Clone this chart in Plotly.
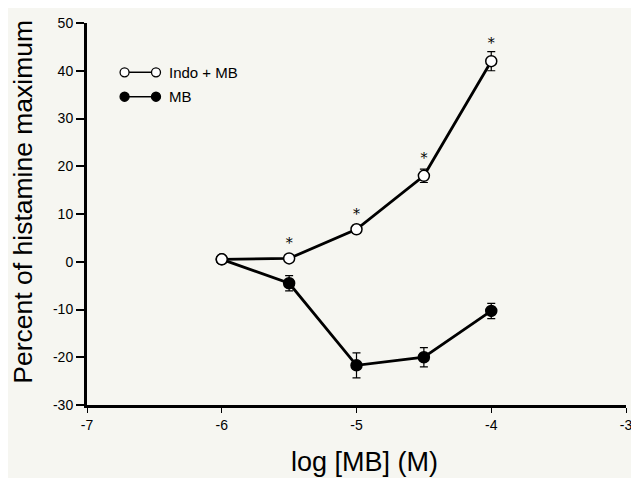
import plotly.graph_objects as go

log_mb = [-6, -5.5, -5, -4.5, -4]
indo_mb = [0.5, 0.7, 6.8, 18.0, 42.0]
indo_err = [0.4, 0.4, 0.8, 1.4, 2.0]
mb_only = [0.5, -4.5, -21.7, -20.0, -10.3]
mb_err = [0.4, 1.6, 2.6, 2.0, 1.6]
sig_x = [-5.5, -5, -4.5, -4]
sig_y = [3.6, 9.6, 21.4, 45.6]
series_names = ["Indo + MB", "MB"]
series_fill = ["white", "black"]

x_ticks = [-7, -6, -5, -4, -3]
y_ticks = [-30, -20, -10, 0, 10, 20, 30, 40, 50]

font = "Liberation Sans, Arial, sans-serif"
bg = "#f6f6f1"

fig = go.Figure()
fig.add_trace(go.Scatter(
    x=log_mb, y=mb_only, name="MB", mode="lines+markers",
    line=dict(color="black", width=2.8),
    marker=dict(symbol="circle", size=11, color="black", line=dict(color="black", width=1.5)),
    error_y=dict(type="data", array=mb_err, color="black", thickness=1.2, width=4),
    showlegend=False,
))
fig.add_trace(go.Scatter(
    x=log_mb, y=indo_mb, name="Indo + MB", mode="lines+markers",
    line=dict(color="black", width=2.8),
    marker=dict(symbol="circle", size=11, color="white", line=dict(color="black", width=1.5)),
    error_y=dict(type="data", array=indo_err, color="black", thickness=1.2, width=4),
    showlegend=False,
))
fig.add_trace(go.Scatter(
    x=sig_x, y=sig_y, mode="text", text=["*"] * len(sig_x),
    textfont=dict(family="DejaVu Serif, serif", size=14, color="black"),
    showlegend=False, hoverinfo="skip",
))

# custom legend keys (marker at both ends of a short line)
leg_y = [0.871, 0.807]
lx0, lx1, ltext = 0.0697, 0.128, 0.149
shapes = []
annotations = []
for name, fill, yy in zip(series_names, series_fill, leg_y):
    shapes.append(dict(type="line", xref="paper", yref="paper", x0=lx0, x1=lx1, y0=yy, y1=yy,
                       line=dict(color="black", width=1.5)))
    for xx in (lx0, lx1):
        shapes.append(dict(type="circle", xref="paper", yref="paper",
                           xsizemode="pixel", ysizemode="pixel", xanchor=xx, yanchor=yy,
                           x0=-4.5, x1=4.5, y0=-4.5, y1=4.5,
                           fillcolor=fill, line=dict(color="black", width=1.3)))
    annotations.append(dict(xref="paper", yref="paper", x=ltext, y=yy, text=name,
                            showarrow=False, xanchor="left", yanchor="middle",
                            font=dict(size=15, color="black", family=font)))

# axis titles
annotations.append(dict(xref="paper", yref="paper", x=0.514, y=-0.1495, text="log [MB] (M)",
                        showarrow=False, xanchor="center", yanchor="middle",
                        font=dict(size=27, color="black", family=font)))
annotations.append(dict(xref="paper", yref="paper", x=-0.119, y=0.532,
                        text="Percent of histamine maximum", textangle=-90,
                        showarrow=False, xanchor="center", yanchor="middle",
                        font=dict(size=26.5, color="black", family=font)))

fig.update_layout(
    width=631, height=470,
    margin=dict(l=79, r=7, t=9, b=73),
    paper_bgcolor=bg, plot_bgcolor=bg,
    font=dict(family=font, color="black", size=14),
    showlegend=False,
    shapes=shapes, annotations=annotations,
    xaxis=dict(range=[-7, -3], tickvals=x_ticks, ticktext=[str(v) for v in x_ticks],
               showgrid=False, zeroline=False, showline=True, linecolor="black", linewidth=3,
               ticks="outside", ticklen=5, tickwidth=1.2, tickcolor="black"),
    yaxis=dict(range=[-30, 50], tickvals=y_ticks, ticktext=[str(v) for v in y_ticks],
               showgrid=False, zeroline=False, showline=True, linecolor="black", linewidth=3,
               ticks="outside", ticklen=8, tickwidth=1.5, tickcolor="black"),
)

fig.write_html("out.html")
